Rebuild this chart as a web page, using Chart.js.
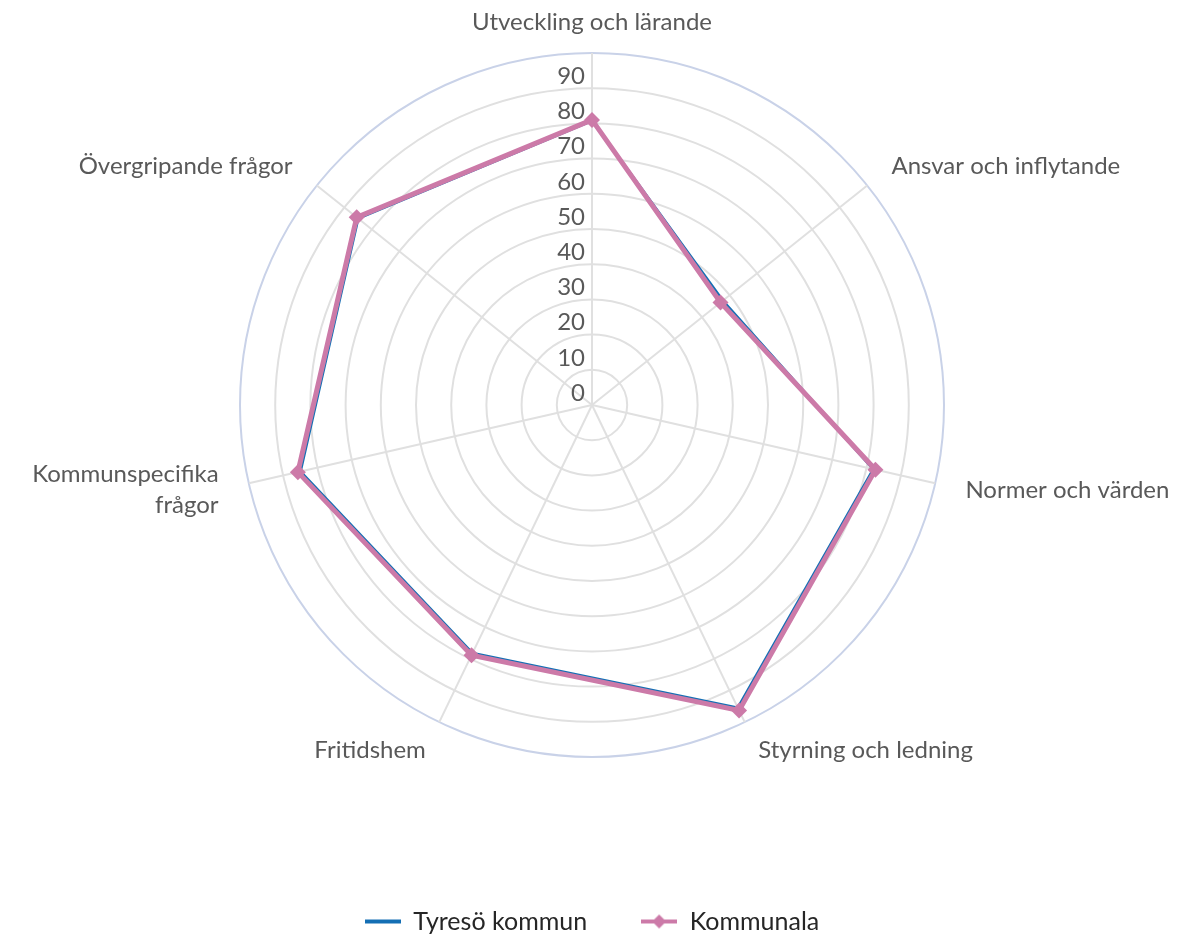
<!DOCTYPE html>
<html>
<head>
<meta charset="utf-8">
<script src="https://cdn.jsdelivr.net/npm/chart.js@4.4.0/dist/chart.umd.min.js"></script>
<style>
  html, body { margin: 0; padding: 0; background: #fff; }
  #wrap { width: 1178px; height: 939px; }
</style>
</head>
<body>
<div id="wrap"><canvas id="radar"></canvas></div>
<script>
const kategorier = [
    'Utveckling och lärande',
    'Ansvar och inflytande',
    'Normer och värden',
    'Styrning och ledning',
    'Fritidshem',
    ['Kommunspecifika', 'frågor'],
    'Övergripande frågor'
];
const tyreso = [80.8, 47.5, 82, 95.5, 78.3, 85, 85];
const kommunala = [81, 46.7, 82.6, 96.3, 78.9, 85.7, 85.5];
const tickVarden = [0, 10, 20, 30, 40, 50, 60, 70, 80, 90];

const BLA = '#146fb4';
const ROSA = '#cc7aa8';
const TEXT = '#595959';
const FONT = 'Lato';

// små bilder till legenden: linje, och linje med romb
function legendIkon(farg, diamant) {
    const c = document.createElement('canvas');
    c.width = 36;
    c.height = 18;
    const g = c.getContext('2d');
    g.strokeStyle = farg;
    g.lineWidth = 4;
    g.beginPath();
    g.moveTo(0, 9);
    g.lineTo(36, 9);
    g.stroke();
    if (diamant) {
        g.fillStyle = farg;
        g.beginPath();
        g.moveTo(18, 2);
        g.lineTo(25, 9);
        g.lineTo(18, 16);
        g.lineTo(11, 9);
        g.closePath();
        g.fill();
    }
    return c;
}
const ikoner = [legendIkon(BLA, false), legendIkon(ROSA, true)];

// skalvärden och kategorinamn ritas här för att få samma placering som förlagan
const etiketter = {
    id: 'etiketter',
    beforeDatasetsDraw(chart) {
        const r = chart.scales.r;
        const ctx = chart.ctx;
        ctx.save();
        ctx.fillStyle = TEXT;
        ctx.font = '24px ' + FONT;
        ctx.textAlign = 'right';
        ctx.textBaseline = 'middle';
        tickVarden.forEach(v => {
            const d = r.getDistanceFromCenterForValue(v);
            ctx.fillText(String(v), r.xCenter - 7, r.yCenter - d - 12);
        });

        ctx.font = '24px ' + FONT;
        kategorier.forEach((lab, i) => {
            const p = r.getPointPosition(i, r.drawingArea + 31);
            const s = Math.sin(r.getIndexAngle(i));
            ctx.textAlign = s > 0.05 ? 'left' : (s < -0.05 ? 'right' : 'center');
            const rader = Array.isArray(lab) ? lab : [lab];
            const y0 = p.y - (rader.length - 1) * 31 / 2;
            rader.forEach((t, j) => ctx.fillText(t, p.x, y0 + j * 31));
        });
        ctx.restore();
    }
};

new Chart(document.getElementById('radar'), {
    type: 'radar',
    data: {
        labels: kategorier,
        datasets: [{
            label: 'Tyresö kommun',
            data: tyreso,
            borderColor: BLA,
            backgroundColor: BLA,
            borderWidth: 3,
            pointRadius: 0,
            fill: false,
            order: 2
        }, {
            label: 'Kommunala',
            data: kommunala,
            borderColor: ROSA,
            backgroundColor: ROSA,
            borderWidth: 5,
            pointStyle: 'rectRot',
            pointRadius: 8,
            pointBorderWidth: 0,
            pointBackgroundColor: ROSA,
            fill: false,
            order: 1
        }]
    },
    options: {
        responsive: true,
        maintainAspectRatio: false,
        animation: false,
        layout: {
            padding: { top: 53, left: 6, right: 0, bottom: -5 }
        },
        scales: {
            r: {
                min: 0,
                max: 100,
                ticks: { display: false, stepSize: 10 },
                pointLabels: { display: false },
                grid: {
                    circular: true,
                    lineWidth: 2,
                    color: c => (c.tick && c.tick.value === 100) ? '#c9d2e8' : '#e0e0e0'
                },
                angleLines: { color: '#e0e0e0', lineWidth: 2 }
            }
        },
        plugins: {
            tooltip: { enabled: false },
            legend: {
                position: 'bottom',
                title: { display: true, text: '', font: { size: 10 }, padding: { top: 85.5, bottom: 0 } },
                labels: {
                    usePointStyle: true,
                    pointStyleWidth: 36,
                    padding: 54,
                    color: '#262626',
                    font: { family: FONT, size: 25 },
                    generateLabels(chart) {
                        const items = Chart.defaults.plugins.legend.labels.generateLabels(chart);
                        items.sort((a, b) => a.datasetIndex - b.datasetIndex);
                        items.forEach(it => { it.pointStyle = ikoner[it.datasetIndex]; });
                        return items;
                    }
                }
            }
        }
    },
    plugins: [etiketter]
});
</script>
</body>
</html>
